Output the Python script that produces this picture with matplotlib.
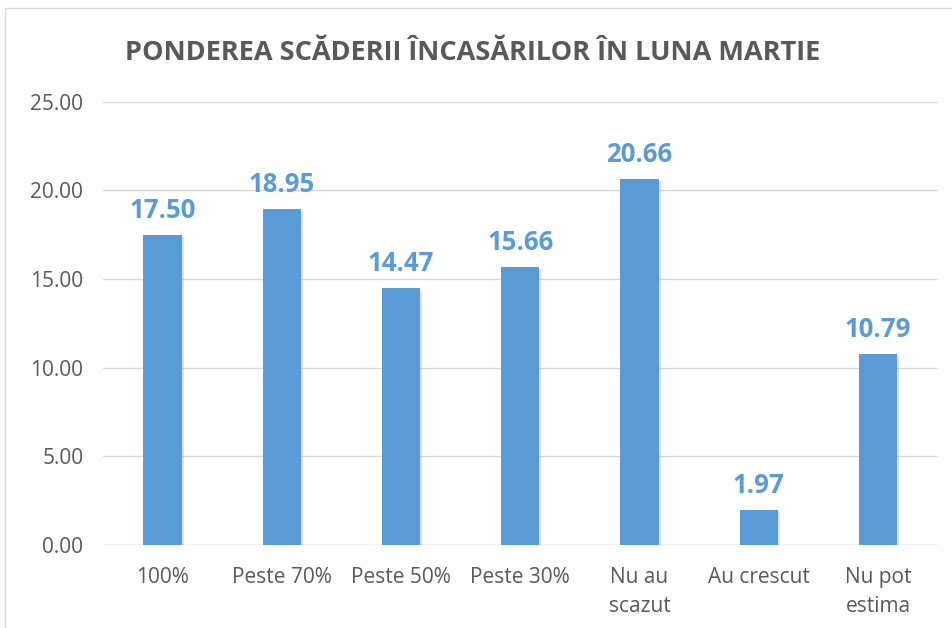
import matplotlib
matplotlib.use('Agg')
import matplotlib.pyplot as plt
import matplotlib.patheffects as pe
from matplotlib.patches import Rectangle

categorii = ["100%", "Peste 70%", "Peste 50%", "Peste 30%", "Nu au\nscazut", "Au crescut", "Nu pot\nestima"]
valori = [17.50, 18.95, 14.47, 15.66, 20.66, 1.97, 10.79]
yticks = [0, 5, 10, 15, 20, 25]

plt.rcParams['font.family'] = ['Open Sans', 'DejaVu Sans']

fig = plt.figure(figsize=(9.52, 6.28), dpi=100)
ax = fig.add_axes([0.108, 0.132, 0.877, 0.706])

x = range(len(categorii))
bars = ax.bar(x, valori, width=0.32, color='#5B9BD5', zorder=3)
for b in bars:
    b.set_path_effects([pe.SimplePatchShadow(offset=(1.5, -1.5), shadow_rgbFace='#999999', alpha=0.3), pe.Normal()])

for xi, v in zip(x, valori):
    ax.annotate(f"{v:.2f}", (xi, v), xytext=(0, 8), textcoords='offset points',
                ha='center', va='bottom', color='#5B9BD5', fontsize=18.5, fontweight='bold')

ax.set_xlim(-0.5, len(categorii) - 0.5)
ax.set_ylim(0, 25)
ax.set_yticks(yticks)
ax.set_yticklabels([f"{t:.2f}" for t in yticks])
ax.set_xticks(list(x))
ax.set_xticklabels(categorii, linespacing=1.5)
ax.tick_params(axis='both', length=0, labelsize=15, colors='#595959')
ax.tick_params(axis='x', pad=16)
ax.tick_params(axis='y', pad=14)
ax.grid(axis='y', color='#D9D9D9', linewidth=1, zorder=0)
for s in ax.spines.values():
    s.set_visible(False)
ax.axhline(0, color='#D9D9D9', linewidth=1, zorder=2)

fig.text(0.496, 0.915, "PONDEREA SCĂDERII ÎNCASĂRILOR ÎN LUNA MARTIE", ha='center', va='center',
         fontsize=19.5, fontweight='bold', color='#595959')

fig.patches.append(Rectangle((0.005, -0.05), 1.1, 1.037, transform=fig.transFigure,
                             fill=False, edgecolor='#D9D9D9', linewidth=1))

fig.savefig('out.png', dpi=100)
